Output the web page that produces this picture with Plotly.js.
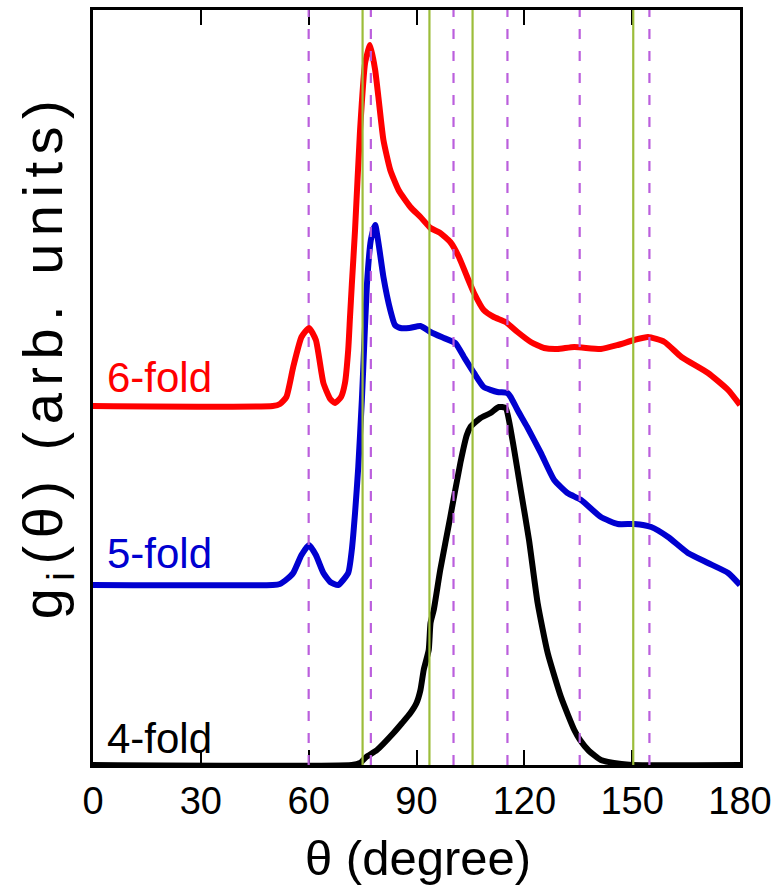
<!DOCTYPE html>
<html>
<head>
<meta charset="utf-8">
<script src="https://cdn.plot.ly/plotly-3.0.1.min.js"></script>
<style>
  html, body { margin: 0; padding: 0; background: #fff; }
  #chart { width: 781px; height: 895px; }
  g.annotation[data-index="0"] text { letter-spacing: 7.5px; }
</style>
</head>
<body>
<div id="chart"></div>
<script>
// ---- data (theta in degrees, g in arbitrary units) ----
const theta6 = [0, 50, 52, 53.8, 55.7, 58, 60.1, 62, 64.1, 66, 67.3, 69, 70.1, 71.0, 71.5, 72.0, 72.9, 74.3, 75.7, 77.1, 78.5, 79.4, 80.8, 82.7, 85.0, 88.3, 91.1, 93.9, 96.6, 99.4, 101.8, 104.1, 106.0, 108.7, 111.5, 114.8, 118.1, 121.8, 125.5, 129.2, 133.9, 141.3, 146.0, 150.6, 154.4, 159.0, 163.7, 171.1, 176.7, 180];
const g6 = [359, 359, 361, 368, 398, 428, 437, 425, 382, 366, 362, 368, 382, 415, 448, 480, 535, 635, 702, 720, 695, 668, 625, 595, 575, 558, 548, 537, 532, 523, 508, 488, 472, 455, 448, 443, 433, 423, 417, 416, 418, 416, 420, 425, 428, 423, 408, 392, 375, 360];

const theta5 = [0, 50, 52, 54, 55.7, 58, 60.1, 62, 64.1, 66, 68.2, 71.0, 72.0, 72.9, 73.8, 74.8, 75.2, 76.2, 77.3, 78.5, 79.5, 80.8, 82.7, 84, 85.5, 88, 91.1, 93.9, 97.6, 100.8, 103.2, 106, 108.7, 112.5, 115.3, 116.2, 118.1, 120.8, 124.6, 128.3, 132.0, 135.8, 141.3, 146, 150.6, 155.3, 160, 165.5, 171.1, 176.7, 180];
const g5 = [180, 180, 181, 186, 192, 210, 220, 210, 192, 183, 180, 192, 215, 252, 298, 365, 398, 480, 525, 540, 520, 488, 455, 440, 437, 437, 439, 433, 427, 422, 408, 392, 378, 373, 372, 368, 355, 338, 312, 285, 272, 265, 248, 241, 241, 238, 228, 212, 202, 192, 180];

const theta4 = [0, 72, 74.3, 76, 79, 83.6, 86, 88.3, 90, 91.1, 92, 93.4, 93.9, 94.8, 96.6, 99.4, 102.2, 104, 105, 107.8, 110.6, 112.9, 114.8, 116.7, 119, 121.3, 123.7, 126.5, 130.2, 133.9, 135.5, 138, 141.3, 147, 150, 180];
const g4 = [0, 0, 2, 8, 15, 32, 42, 52, 62, 75, 95, 115, 142, 155, 195, 248, 302, 330, 338, 347, 352, 358, 357, 325, 275, 225, 162, 112, 68, 35, 25, 14, 5, 1, 0, 0];

const dashedAngles = [60, 77.3, 100.3, 115.3, 135.4, 154.8];
const solidAngles = [75.0, 93.6, 105.6, 150.3];

const xTicks = [0, 30, 60, 90, 120, 150, 180];
const seriesNames = ['6-fold', '5-fold', '4-fold'];
const seriesColors = ['#ff0000', '#0000d0', '#000000'];
const labelY = [388, 212, 27];

// ---- traces ----
const lineStyle = c => ({color: c, width: 6, shape: 'spline', smoothing: 0.5});
const traces = [
  {x: theta6, y: g6, name: seriesNames[0], mode: 'lines', line: lineStyle(seriesColors[0])},
  {x: theta5, y: g5, name: seriesNames[1], mode: 'lines', line: lineStyle(seriesColors[1])},
  {x: theta4, y: g4, name: seriesNames[2], mode: 'lines', line: lineStyle(seriesColors[2])}
];

const shapes = [];
solidAngles.forEach(a => shapes.push({
  type: 'line', xref: 'x', yref: 'paper', x0: a, x1: a, y0: 0, y1: 1,
  line: {color: '#9cbd3a', width: 2.2}, layer: 'above'
}));
dashedAngles.forEach(a => shapes.push({
  type: 'line', xref: 'x', yref: 'paper', x0: a, x1: a, y0: 0, y1: 1,
  line: {color: '#bb5fdd', width: 2.2, dash: '10px,12px'}, layer: 'above'
}));

const font = 'Liberation Sans, Arial, Helvetica, sans-serif';
const annotations = [
  {
    text: 'g<sub>i</sub>(θ) (arb. units)', xref: 'paper', yref: 'paper',
    x: -0.071, y: 0.542, xanchor: 'center', yanchor: 'middle', textangle: -90,
    showarrow: false, font: {family: font, size: 56, color: '#000'}
  },
  {
    text: 'θ (degree)', xref: 'paper', yref: 'paper',
    x: (418 - 93) / 647, y: -(858 - 765) / 755, xanchor: 'center', yanchor: 'middle',
    showarrow: false, font: {family: font, size: 49, color: '#000'}
  }
];
seriesNames.forEach((n, i) => annotations.push({
  text: n, xref: 'x', yref: 'y', x: 3.3, y: labelY[i], xanchor: 'left', yanchor: 'middle',
  showarrow: false, font: {family: font, size: 42, color: seriesColors[i]}
}));

const layout = {
  width: 781, height: 895,
  margin: {l: 93, r: 41, t: 10, b: 130, pad: 0},
  paper_bgcolor: '#fff', plot_bgcolor: '#fff',
  showlegend: false,
  font: {family: font, color: '#000'},
  xaxis: {
    range: [0, 180], tickvals: xTicks, ticktext: xTicks.map(String),
    ticks: 'inside', ticklen: 15, tickwidth: 2, tickcolor: '#000',
    showline: true, linecolor: '#000', linewidth: 3, mirror: 'ticks',
    showgrid: false, zeroline: false,
    tickfont: {family: font, size: 38, color: '#000'}
  },
  yaxis: {
    range: [0, 755], showticklabels: false, ticks: '',
    showline: true, linecolor: '#000', linewidth: 3, mirror: true,
    showgrid: false, zeroline: false
  },
  shapes: shapes,
  annotations: annotations
};

Plotly.newPlot('chart', traces, layout, {staticPlot: true, displayModeBar: false});
</script>
</body>
</html>
